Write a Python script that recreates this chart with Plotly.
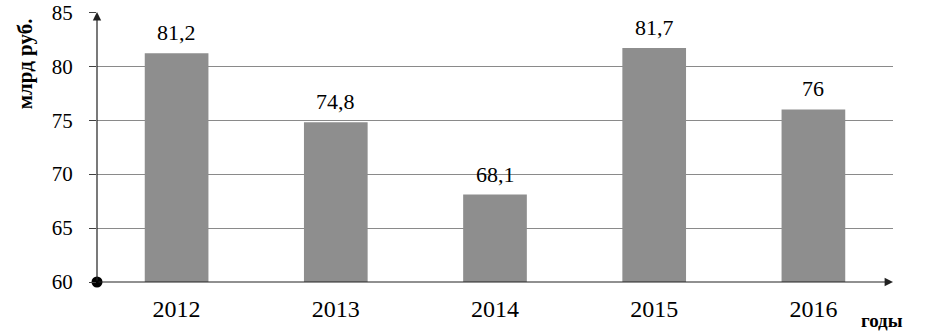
import plotly.graph_objects as go

years = ["2012", "2013", "2014", "2015", "2016"]
values = [81.2, 74.8, 68.1, 81.7, 76]
labels = ["81,2", "74,8", "68,1", "81,7", "76"]
y_ticks = [60, 65, 70, 75, 80, 85]

font_family = "Liberation Serif"
positions = list(range(len(years)))

fig = go.Figure()
fig.add_trace(go.Bar(
    x=positions, y=values, base=0,
    marker=dict(color="#8e8e8e", line=dict(width=0)),
    width=0.4, hoverinfo="skip",
))

fig.add_trace(go.Scatter(x=[-0.5], y=[60], mode="markers", cliponaxis=False,
                         marker=dict(color="#000000", size=11), hoverinfo="skip"))

annotations = [
    dict(x=p, y=v, text=t, showarrow=False, xanchor="center", yanchor="bottom",
         yshift=6, font=dict(family=font_family, size=22, color="#000000"))
    for p, v, t in zip(positions, values, labels)
]
annotations += [
    dict(xref="x domain", yref="y domain", x=0, y=1, ax=0, ay=0,
         axref="x domain", ayref="y domain",
         showarrow=True, arrowhead=2, arrowsize=1.4, arrowwidth=1.2, arrowcolor="#222222",
         text=""),
    dict(xref="x domain", yref="y domain", x=1, y=0, ax=0, ay=0,
         axref="x domain", ayref="y domain",
         showarrow=True, arrowhead=2, arrowsize=1.4, arrowwidth=1.2, arrowcolor="#222222",
         text=""),
    dict(xref="paper", yref="paper", x=-0.0905, y=0.81, text="<b>млрд руб.</b>", textangle=-90,
         showarrow=False, font=dict(size=21, family=font_family), xanchor="center", yanchor="middle"),
    dict(xref="paper", yref="paper", x=0.986, y=-0.143, text="<b>годы</b>",
         showarrow=False, font=dict(size=19, family=font_family), xanchor="center", yanchor="middle"),
]

fig.update_layout(
    width=927, height=333,
    margin=dict(l=97, r=34, t=12, b=51),
    paper_bgcolor="white", plot_bgcolor="white",
    showlegend=False,
    font=dict(family=font_family, size=21, color="#000000"),
    xaxis=dict(showgrid=False, showline=False, ticks="", tickfont=dict(size=24),
               range=[-0.5, 4.5], tickvals=positions, ticktext=years,
               zeroline=False, automargin=False, ticklabelstandoff=10),
    yaxis=dict(range=[60, 85.03], tickvals=y_ticks, showgrid=True, gridcolor="#8a8a8a",
               gridwidth=1, zeroline=False, showline=False, ticks="outside",
               ticklen=7, tickcolor="#404040", tickfont=dict(size=21),
               ticklabelstandoff=12, automargin=False, ticklabeloverflow="allow"),
    annotations=annotations,
)

html = fig.to_html(full_html=True, include_plotlyjs=True, config={"displayModeBar": False})
html = html.replace("<body>", '<body style="margin:0;padding:0;overflow:hidden">', 1)
html = html.replace("<head>", "<head><style>html,body{margin:0;padding:0;}</style>", 1)
with open("out.html", "w", encoding="utf-8") as f:
    f.write(html)
